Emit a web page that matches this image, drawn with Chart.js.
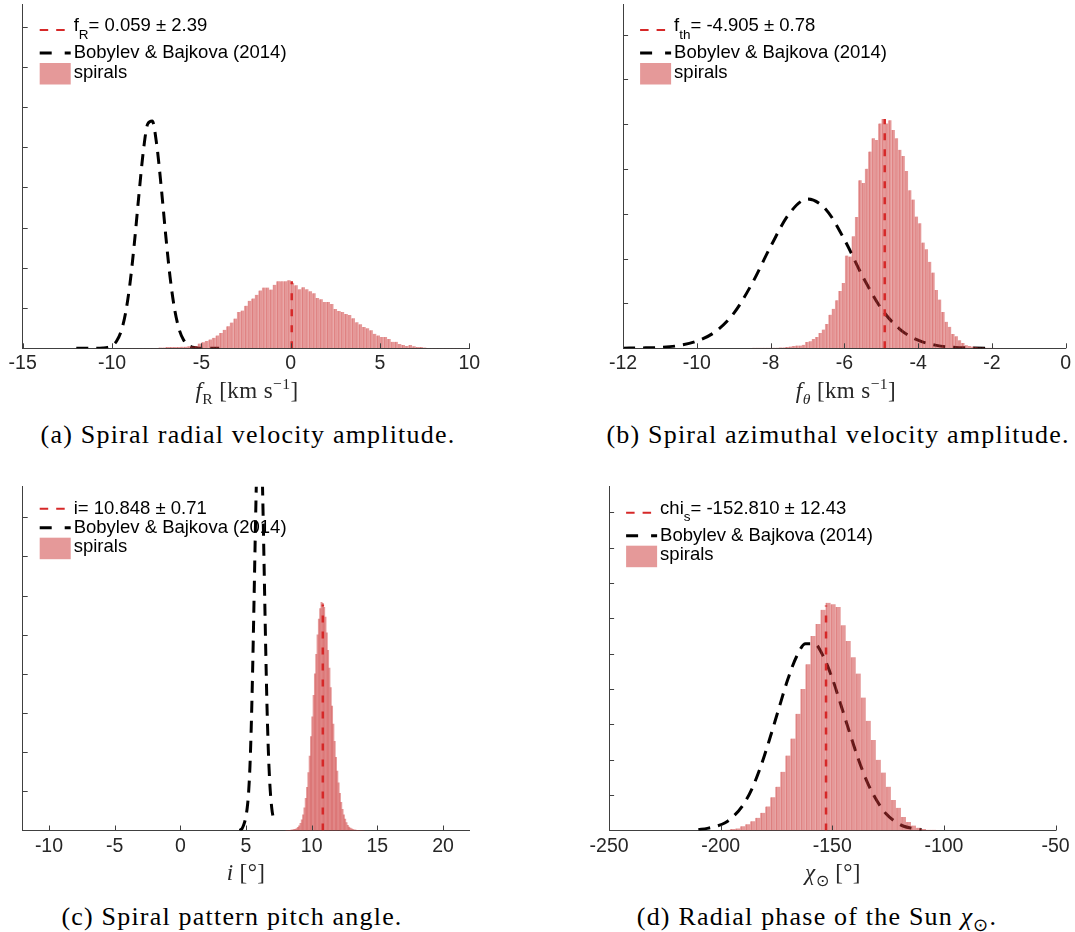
<!DOCTYPE html>
<html>
<head>
<meta charset="utf-8">
<script src="https://cdn.jsdelivr.net/npm/chart.js@4.4.1/dist/chart.umd.min.js"></script>
<style>
  html, body { margin: 0; padding: 0; background: #fff; }
  #fig { position: relative; width: 1075px; height: 932px; overflow: hidden; }
  canvas { position: absolute; }
  .lbl { position: absolute; transform: translateX(-50%); white-space: nowrap; font-family: "Liberation Serif", serif; }
  .axt { font-size: 23px; line-height: 24px; letter-spacing: 0.4px; color: #262626; }
  .cap { font-size: 26px; line-height: 30px; letter-spacing: 1.2px; color: #000; }
  sub, sup { font-size: 68%; line-height: 0; }
</style>
</head>
<body>
<div id="fig">
  <canvas id="chartA" width="537" height="400" style="left:0;top:0"></canvas>
  <canvas id="chartB" width="538" height="400" style="left:537px;top:0"></canvas>
  <canvas id="chartC" width="537" height="400" style="left:0;top:470px"></canvas>
  <canvas id="chartD" width="538" height="400" style="left:537px;top:470px"></canvas>

  <div class="lbl axt" style="left:247px;top:379px"><i>f</i><sub>R</sub> [km s<sup>−1</sup>]</div>
  <div class="lbl axt" style="left:846px;top:379px"><i>f<sub>θ</sub></i> [km s<sup>−1</sup>]</div>
  <div class="lbl axt" style="left:246px;top:861px"><i>i</i> [°]</div>
  <div class="lbl axt" style="left:833px;top:861px"><i>χ</i><sub>⊙</sub> [°]</div>

  <div class="lbl cap" style="left:248px;top:420px">(a) Spiral radial velocity amplitude.</div>
  <div class="lbl cap" style="left:838px;top:420px">(b) Spiral azimuthal velocity amplitude.</div>
  <div class="lbl cap" style="left:232px;top:902px">(c) Spiral pattern pitch angle.</div>
  <div class="lbl cap" style="left:817px;top:902px">(d) Radial phase of the Sun <i>χ</i><sub>⊙</sub>.</div>
</div>

<script>
// ---------- (a) spiral radial velocity amplitude f_R ----------
const binStartA = -9.6, binWidthA = 0.2;
const histA = [
  0.0005, 0.0005, 0.0005, 0.0005, 0.001, 0.001, 0.001, 0.001, 0.001, 0.001,
  0.001, 0.002, 0.002, 0.003, 0.003, 0.003, 0.003, 0.004, 0.004, 0.005,
  0.005, 0.006, 0.012, 0.015, 0.018, 0.022, 0.026, 0.032, 0.038, 0.046,
  0.055, 0.064, 0.074, 0.090, 0.094, 0.106, 0.118, 0.124, 0.133, 0.144,
  0.151, 0.151, 0.146, 0.158, 0.167, 0.167, 0.167, 0.169, 0.163, 0.157,
  0.147, 0.152, 0.147, 0.142, 0.137, 0.125, 0.122, 0.115, 0.115, 0.110,
  0.098, 0.093, 0.090, 0.085, 0.083, 0.075, 0.065, 0.060, 0.053, 0.050,
  0.045, 0.036, 0.032, 0.028, 0.028, 0.023, 0.016, 0.016, 0.011, 0.008,
  0.006, 0.008, 0.005, 0.003, 0.003, 0.002, 0.001, 0.001, 0.001, 0.001,
  0.001, 0.0005, 0.0005, 0.0005, 0.0005, 0.0005
];
const curveXA = [-12, -11.75, -11.5, -11.25, -11, -10.75, -10.5, -10.25, -10, -9.75, -9.5, -9.25, -9, -8.75, -8.5, -8.25,
  -8, -7.75, -7.5, -7.25, -7, -6.75, -6.5, -6.25, -6, -5.75, -5.5, -5.25, -5, -4.75, -4.5, -4.25, -4];
const curveYA = [0, 0, 0, 0, 0.0001, 0.0003, 0.0007, 0.0022, 0.0066, 0.0176, 0.041, 0.086, 0.159, 0.261, 0.379, 0.489,
  0.558, 0.565, 0.507, 0.403, 0.284, 0.177, 0.098, 0.048, 0.021, 0.0081, 0.0028, 0.0009, 0.0002, 0.0001, 0, 0, 0];
const meanA = 0.059, meanTopA = 0.167;
const legendA = ['f', 'R', '= 0.059 ± 2.39'];
const xTicksA = [-15, -10, -5, 0, 5, 10];
const yTicksA = [0.1, 0.2, 0.3, 0.4, 0.5, 0.6, 0.7, 0.8];

// ---------- (b) spiral azimuthal velocity amplitude f_theta ----------
const binStartB = -8.5, binWidthB = 0.09;
const histB = [
  0.001, 0.001, 0.001, 0.001, 0.001, 0.001, 0.0015, 0.0015, 0.002, 0.002,
  0.003, 0.004, 0.005, 0.006, 0.006, 0.008, 0.014, 0.016, 0.021, 0.025,
  0.034, 0.042, 0.054, 0.075, 0.088, 0.107, 0.128, 0.146, 0.207, 0.205,
  0.250, 0.293, 0.375, 0.369, 0.401, 0.439, 0.469, 0.465, 0.502, 0.512,
  0.502, 0.509, 0.487, 0.469, 0.443, 0.429, 0.396, 0.353, 0.332, 0.294,
  0.279, 0.236, 0.221, 0.193, 0.169, 0.130, 0.109, 0.081, 0.059, 0.048,
  0.032, 0.027, 0.018, 0.012, 0.007, 0.005, 0.004, 0.003, 0.002, 0.002,
  0.001, 0.001, 0.001, 0.0005, 0.0005, 0.0005
];
const curveXB = [-12, -11.5, -11, -10.5, -10, -9.5, -9, -8.5, -8, -7.5, -7, -6.5, -6, -5.5, -5, -4.5, -4, -3.5, -3, -2.5, -2];
const curveYB = [0.0003, 0.0008, 0.002, 0.006, 0.016, 0.037, 0.078, 0.145, 0.227, 0.300, 0.333, 0.310, 0.243, 0.160,
  0.089, 0.043, 0.018, 0.0065, 0.002, 0.0006, 0.0002];
const meanB = -4.905, meanTopB = 0.512;
const legendB = ['f', 'th', '= -4.905 ± 0.78'];
const xTicksB = [-12, -10, -8, -6, -4, -2, 0];
const yTicksB = [0.1, 0.2, 0.3, 0.4, 0.5, 0.6, 0.7];

// ---------- (c) spiral pattern pitch angle i ----------
const binStartC = 8.0, binWidthC = 0.1;
const histC = [
  0.0001, 0.0002, 0.0004, 0.0006, 0.001, 0.0015, 0.0022, 0.0033, 0.005, 0.008,
  0.012, 0.018, 0.027, 0.040, 0.058, 0.082, 0.110, 0.148, 0.190, 0.240,
  0.290, 0.345, 0.400, 0.450, 0.500, 0.540, 0.567, 0.583, 0.580, 0.570,
  0.545, 0.505, 0.460, 0.415, 0.365, 0.318, 0.272, 0.228, 0.187, 0.152,
  0.122, 0.095, 0.072, 0.054, 0.040, 0.029, 0.020, 0.013, 0.009, 0.006,
  0.004, 0.0025, 0.0016, 0.001, 0.0006, 0.0004, 0.0002, 0.0001, 0.0001, 0.0001
];
const curveXC = [4.5, 4.6, 4.7, 4.8, 4.9, 5.0, 5.1, 5.2, 5.3, 5.4, 5.5, 5.6, 5.7, 5.8, 5.9, 6.0, 6.1, 6.2, 6.3, 6.4,
  6.5, 6.6, 6.7, 6.8, 6.9, 7.0, 7.1, 7.2];
const curveYC = [0.0005, 0.002, 0.005, 0.012, 0.022, 0.037, 0.06, 0.098, 0.163, 0.265, 0.402, 0.567, 0.743, 0.905,
  1.025, 1.078, 1.055, 0.959, 0.811, 0.637, 0.465, 0.316, 0.205, 0.128, 0.078, 0.047, 0.03, 0.02];
const meanC = 10.848, meanTopC = 0.577;
const legendC = ['i= 10.848 ± 0.71', '', ''];
const xTicksC = [-10, -5, 0, 5, 10, 15, 20];
const yTicksC = [0.1, 0.2, 0.3, 0.4, 0.5, 0.6, 0.7, 0.8];

// ---------- (d) radial phase of the Sun chi ----------
const binStartD = -198, binWidthD = 2.25;
const histD = [
  0.0001, 0.0002, 0.0003, 0.0006, 0.0009, 0.0013, 0.0018, 0.0025, 0.0034, 0.0047,
  0.0062, 0.0083, 0.0106, 0.0130, 0.0165, 0.0200, 0.0235, 0.0275, 0.0292, 0.0312,
  0.0322, 0.0320, 0.0316, 0.0290, 0.0268, 0.0245, 0.0222, 0.0188, 0.0155, 0.0128,
  0.0100, 0.0082, 0.0062, 0.0043, 0.0032, 0.0019, 0.0012, 0.0007, 0.0004, 0.0002,
  0.0001, 0.0001
];
const curveXD = [-210, -206, -202, -198, -194, -190, -186, -182, -178, -174, -170, -166, -162, -158, -154, -150, -146,
  -142, -138, -134, -130, -126, -122, -118, -114, -110];
const curveYD = [0.0001, 0.0003, 0.0006, 0.0011, 0.0021, 0.0036, 0.0059, 0.0091, 0.0130, 0.0172, 0.0213, 0.0246, 0.0264,
  0.0264, 0.0246, 0.0215, 0.0176, 0.0136, 0.0098, 0.0066, 0.0042, 0.0024, 0.0013, 0.0006, 0.0003, 0.0001];
const meanD = -152.81, meanTopD = 0.0318;
const legendD = ['chi', 's', '= -152.810 ± 12.43'];
const xTicksD = [-250, -200, -150, -100, -50];
const yTicksD = [0.005, 0.01, 0.015, 0.02, 0.025, 0.03, 0.035, 0.04, 0.045];

const RED = 'rgb(214,40,40)';
const AXIS = '#404040';
const SANS = '"Liberation Sans", Arial, sans-serif';
Chart.defaults.font.family = SANS;

// tick marks pointing into the axes, like the MATLAB figure
const innerTicks = {
  id: 'innerTicks',
  afterDatasetsDraw(chart) {
    const { ctx, chartArea: a, scales: { x, y } } = chart;
    ctx.save();
    ctx.strokeStyle = AXIS;
    ctx.lineWidth = 1;
    ctx.beginPath();
    x.ticks.forEach(t => {
      const p = Math.round(x.getPixelForValue(t.value)) + 0.5;
      ctx.moveTo(p, a.bottom); ctx.lineTo(p, a.bottom - 5);
    });
    y.ticks.forEach(t => {
      const p = Math.round(y.getPixelForValue(t.value)) + 0.5;
      ctx.moveTo(a.left, p); ctx.lineTo(a.left + 5, p);
    });
    ctx.stroke();
    ctx.restore();
  }
};

// legend box in upper left, with TeX-like subscript on the first entry
const boxLegend = {
  id: 'boxLegend',
  afterDraw(chart, args, opts) {
    const { ctx, chartArea: a } = chart;
    const [meanSet, curveSet, histSet] = chart.data.datasets;
    const [main, sub, tail] = opts.entry;
    const sx = a.left + 17, tx = a.left + 51;
    const y1 = a.top + 22;
    const y2 = a.top + (sub ? 49 : 41);
    const y3 = y2 + 19.5;
    ctx.save();
    ctx.lineCap = 'butt';
    ctx.strokeStyle = meanSet.borderColor;
    ctx.lineWidth = 2;
    ctx.setLineDash([8.5, 8]);
    ctx.beginPath();
    ctx.moveTo(sx, sub ? y1 + 4 : y1); ctx.lineTo(sx + 25, sub ? y1 + 4 : y1);
    ctx.stroke();
    ctx.strokeStyle = curveSet.borderColor;
    ctx.lineWidth = 3;
    ctx.setLineDash([12, 13]);
    ctx.beginPath();
    ctx.moveTo(sx, y2); ctx.lineTo(sx + 31, y2);
    ctx.stroke();
    ctx.setLineDash([]);
    ctx.fillStyle = histSet.backgroundColor;
    ctx.fillRect(sx, y3 - 9.5, 31, 21.5);

    ctx.fillStyle = '#000';
    ctx.textBaseline = 'middle';
    ctx.font = '18.5px ' + SANS;
    let x = tx;
    ctx.fillText(main, x, y1);
    x += ctx.measureText(main).width;
    if (sub) {
      ctx.font = '13.5px ' + SANS;
      ctx.fillText(sub, x, y1 + 9);
      x += ctx.measureText(sub).width;
      ctx.font = '18.5px ' + SANS;
      ctx.fillText(tail, x, y1);
    }
    ctx.fillText(curveSet.label, tx, y2);
    ctx.fillText(histSet.label, tx, y3);
    ctx.restore();
  }
};

function makePanel(id, p) {
  const canvas = document.getElementById(id);
  const W = canvas.width, H = canvas.height;
  const bars = p.hist.map((v, i) => ({ x: p.binStart + (i + 0.5) * p.binWidth, y: v }));
  const curve = p.curveX.map((v, i) => ({ x: v, y: p.curveY[i] }));
  const meanLine = [{ x: p.mean, y: 0 }, { x: p.mean, y: p.meanTop }];

  return new Chart(canvas, {
    type: 'bar',
    data: {
      datasets: [
        {
          type: 'line',
          label: p.legend.join(''),
          data: meanLine,
          borderColor: RED,
          borderWidth: 2.5,
          borderDash: [7, 9],
          pointRadius: 0,
          order: 0
        },
        {
          type: 'line',
          label: 'Bobylev & Bajkova (2014)',
          data: curve,
          borderColor: '#000',
          borderWidth: 3,
          borderDash: [12, 8],
          pointRadius: 0,
          cubicInterpolationMode: 'monotone',
          order: 2
        },
        {
          type: 'bar',
          label: 'spirals',
          data: bars,
          backgroundColor: 'rgba(203,51,51,0.5)',
          borderColor: 'rgba(205,55,55,0.4)',
          borderWidth: p.edges ? { left: 1, right: 0, top: 0, bottom: 0 } : 0,
          borderSkipped: false,
          barPercentage: 1,
          categoryPercentage: 1,
          order: 1
        }
      ]
    },
    options: {
      responsive: false,
      animation: false,
      devicePixelRatio: 1,
      layout: { padding: { left: p.area[0], top: p.area[2], right: W - p.area[1], bottom: 0 } },
      plugins: {
        legend: { display: false },
        tooltip: { enabled: false },
        boxLegend: { entry: p.legend }
      },
      scales: {
        x: {
          type: 'linear',
          min: p.xMin,
          max: p.xMax,
          offset: false,
          grid: { display: false, drawTicks: false, offset: false },
          border: { display: true, color: AXIS, width: 1 },
          ticks: {
            font: { size: 19.5 },
            color: '#262626',
            padding: 4,
            maxRotation: 0,
            autoSkip: false,
            callback: v => String(v)
          },
          afterBuildTicks: s => { s.ticks = p.xTicks.map(v => ({ value: v })); },
          afterFit: s => { s.height = H - p.area[3]; }
        },
        y: {
          min: 0,
          max: p.yMax,
          grid: { display: false, drawTicks: false },
          border: { display: true, color: AXIS, width: 1 },
          ticks: { display: false },
          afterBuildTicks: s => { s.ticks = p.yTicks.map(v => ({ value: v })); },
          afterFit: s => { s.width = 0; }
        }
      }
    },
    plugins: [innerTicks, boxLegend]
  });
}

// area = [left, right, top, bottom] of the axes inside each canvas
makePanel('chartA', {
  binStart: binStartA, binWidth: binWidthA, hist: histA, curveX: curveXA, curveY: curveYA,
  mean: meanA, meanTop: meanTopA, legend: legendA, xTicks: xTicksA, yTicks: yTicksA,
  xMin: -15, xMax: 10, yMax: 0.856, area: [22.7, 469.3, 4, 348.3], edges: true
});
makePanel('chartB', {
  binStart: binStartB, binWidth: binWidthB, hist: histB, curveX: curveXB, curveY: curveYB,
  mean: meanB, meanTop: meanTopB, legend: legendB, xTicks: xTicksB, yTicks: yTicksB,
  xMin: -12, xMax: 0, yMax: 0.7685, area: [86.1, 531.9, 4, 348.3], edges: true
});
makePanel('chartC', {
  binStart: binStartC, binWidth: binWidthC, hist: histC, curveX: curveXC, curveY: curveYC,
  mean: meanC, meanTop: meanTopC, legend: legendC, xTicks: xTicksC, yTicks: yTicksC,
  xMin: -12, xMax: 22, yMax: 0.878, area: [22.7, 469.3, 16.7, 360.5], edges: false
});
makePanel('chartD', {
  binStart: binStartD, binWidth: binWidthD, hist: histD, curveX: curveXD, curveY: curveYD,
  mean: meanD, meanTop: meanTopD, legend: legendD, xTicks: xTicksD, yTicks: yTicksD,
  xMin: -250, xMax: -50, yMax: 0.0486, area: [72.1, 518.5, 16.7, 360.5], edges: true
});
</script>
</body>
</html>
